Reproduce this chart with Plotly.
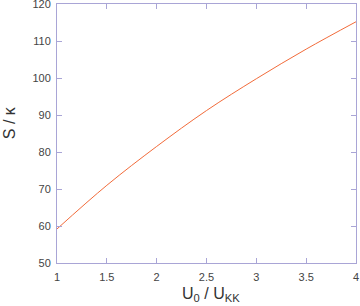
import plotly.graph_objects as go

u_ratio = [1.0, 1.5, 2.0, 2.5, 3.0, 3.5, 4.0]
s_kappa = [59.2, 71.0, 81.5, 91.2, 99.8, 107.8, 115.2]

x_ticks = [1, 1.5, 2, 2.5, 3, 3.5, 4]
x_ticklabels = ["1", "1.5", "2", "2.5", "3", "3.5", "4"]
y_ticks = [50, 60, 70, 80, 90, 100, 110, 120]
x_title = "U<sub>0</sub> / U<sub>KK</sub>"
y_title = "S / κ"

axis_col = "#a9a5d6"
font_fam = "Liberation Sans, Arial"
fig = go.Figure(go.Scatter(x=u_ratio, y=s_kappa, mode="lines",
                           line=dict(color="#f26b3a", width=1), line_shape="spline"))

common = dict(showgrid=False, zeroline=False, showline=True, linecolor=axis_col, linewidth=1,
              mirror="allticks", ticks="inside", ticklen=5, tickcolor=axis_col, automargin=False,
              ticklabeloverflow="allow",
              tickfont=dict(family=font_fam, size=11, color="#444444"))
fig.update_xaxes(range=[1, 4], tickvals=x_ticks, ticktext=x_ticklabels, ticklabelstandoff=4, **common)
fig.update_yaxes(range=[50, 120], tickvals=y_ticks, ticklabelstandoff=3, **common)

fig.add_annotation(text=x_title, xref="paper", yref="paper", x=0.515, y=0, xanchor="center",
                   yanchor="top", yshift=-20, showarrow=False,
                   font=dict(family=font_fam, size=16, color="#333333"))
fig.add_annotation(text=y_title, xref="paper", yref="paper", x=0, y=0.54, xanchor="center",
                   yanchor="middle", xshift=-48, textangle=-90, showarrow=False,
                   font=dict(family=font_fam, size=16, color="#333333"))

fig.update_layout(width=360, height=306, margin=dict(l=57, r=4, t=4, b=43),
                  paper_bgcolor="white", plot_bgcolor="white", showlegend=False)
fig.write_html("out.html", config={"displayModeBar": False},
               post_script="document.body.style.margin='0';document.body.style.overflow='hidden';")
